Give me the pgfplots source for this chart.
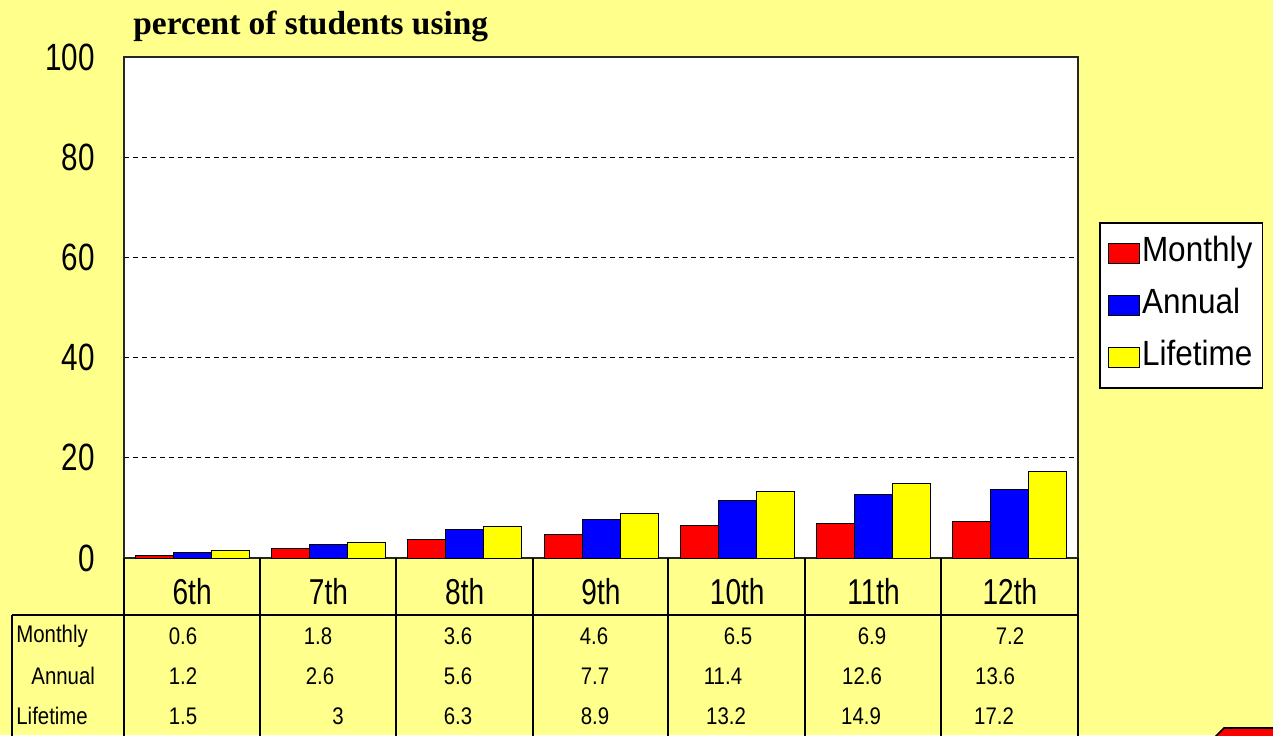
\documentclass[border=0pt]{standalone}
\usepackage{fontspec}
\setmainfont{Liberation Sans}
\newfontfamily\nfont[FakeStretch=0.78]{Liberation Sans}
\newfontfamily\lfont[FakeStretch=0.9]{Liberation Sans}
\newfontfamily\tfont[FakeStretch=0.85]{Liberation Sans}
\newfontfamily\titlefont{Liberation Serif}
\usepackage{pgfplots}
\pgfplotsset{compat=1.18}
\usepackage{pgfplotstable}
\definecolor{bgyellow}{RGB}{255,255,140}
\definecolor{barred}{RGB}{255,0,0}
\definecolor{barblue}{RGB}{0,0,255}
\definecolor{baryellow}{RGB}{255,255,0}

\pgfplotstableread{
x grade Monthly Annual Lifetime
0 6th 0.6 1.2 1.5
1 7th 1.8 2.6 3
2 8th 3.6 5.6 6.3
3 9th 4.6 7.7 8.9
4 10th 6.5 11.4 13.2
5 11th 6.9 12.6 14.9
6 12th 7.2 13.6 17.2
}\datatable

\begin{document}
\begin{tikzpicture}
\useasboundingbox (0,0) rectangle (636.5pt,-367.5pt);
\clip (0,0) rectangle (636.5pt,-367.5pt);
\fill[bgyellow] (0,0) rectangle (636.5pt,-367.5pt);
\begin{axis}[
  at={(62pt,-279pt)}, anchor=south west,
  scale only axis, width=477pt, height=250.5pt,
  xmin=-0.5, xmax=6.5, ymin=0, ymax=100,
  ybar=0pt, bar width=19pt,
  axis background/.style={fill=white},
  axis line style={line width=1pt, black!85},
  xtick={0,...,6},
  xticklabels={6th,7th,8th,9th,10th,11th,12th},
  ytick={0,20,...,100},
  major tick length=0pt,
  ymajorgrids,
  grid style={black, line width=0.6pt, dash pattern=on 2.5pt off 2pt},
  /pgf/number format/assume math mode=true,
  yticklabel style={anchor=east, inner sep=0pt, xshift=-14.5pt, font=\nfont\fontsize{19}{19}\selectfont},
  xticklabel style={anchor=center, inner sep=0pt, yshift=-17pt, font=\nfont\fontsize{18}{18}\selectfont},
  legend style={at={(1.022,0.6707)}, anchor=north west, draw=black, line width=0.8pt, fill=white,
    font=\lfont\fontsize{17.5}{17.5}\selectfont, inner xsep=4pt, inner ysep=6.5pt, row sep=8.5pt,
    nodes={inner sep=1pt, text height=12pt, text depth=3.5pt}},
  legend cell align=left,
  legend image code/.code={\draw[#1, draw=black, line width=0.6pt] (0pt,-5pt) rectangle (15.5pt,5pt);},
]
\addplot[fill=barred, draw=black, line width=0.5pt] table[x=x,y=Monthly]{\datatable};
\addplot[fill=barblue, draw=black, line width=0.5pt] table[x=x,y=Annual]{\datatable};
\addplot[fill=baryellow, draw=black, line width=0.5pt] table[x=x,y=Lifetime]{\datatable};
\legend{Monthly,Annual,Lifetime}
\end{axis}
\begin{scope}[x=0.5pt,y=-0.5pt]
  % title
  \node[anchor=base west, inner sep=0pt, font=\titlefont\bfseries\fontsize{16.7}{16.7}\selectfont] at (133,34) {percent of students using};
  % table lines
  \draw[line width=1pt, black] (12,615) -- (1078,615);
  \draw[line width=1pt, black] (12,615) -- (12,745);
  \foreach \xx in {124,260,396,533,668,805,941,1078}
    \draw[line width=1pt, black] (\xx,558) -- (\xx,745);
  % row labels and values
  \begin{scope}[every node/.style={font=\tfont\fontsize{12}{12}\selectfont, inner sep=0pt}]
  \node[anchor=west] at (16,636) {Monthly};
  \node[anchor=west] at (31,676) {Annual};
  \node[anchor=west] at (16,716) {Lifetime};
  \foreach \xx/\v in {183/0.6, 318/1.8, 458/3.6, 594/4.6, 738/6.5, 872/6.9, 1010/7.2}
    \node at (\xx,636) {\v};
  \foreach \xx/\v in {183/1.2, 320/2.6, 458/5.6, 595/7.7, 723/11.4, 862/12.6, 995/13.6}
    \node at (\xx,676) {\v};
  \foreach \xx/\v in {183/1.5, 338/3, 458/6.3, 595/8.9, 726/13.2, 861/14.9, 994/17.2}
    \node at (\xx,716) {\v};
  \end{scope}
  % cut-off element at bottom right
  \filldraw[fill=red, draw=black, line width=0.8pt] (1212,740) -- (1224,728) -- (1285,728) -- (1285,740) -- cycle;
\end{scope}
\end{tikzpicture}
\end{document}
